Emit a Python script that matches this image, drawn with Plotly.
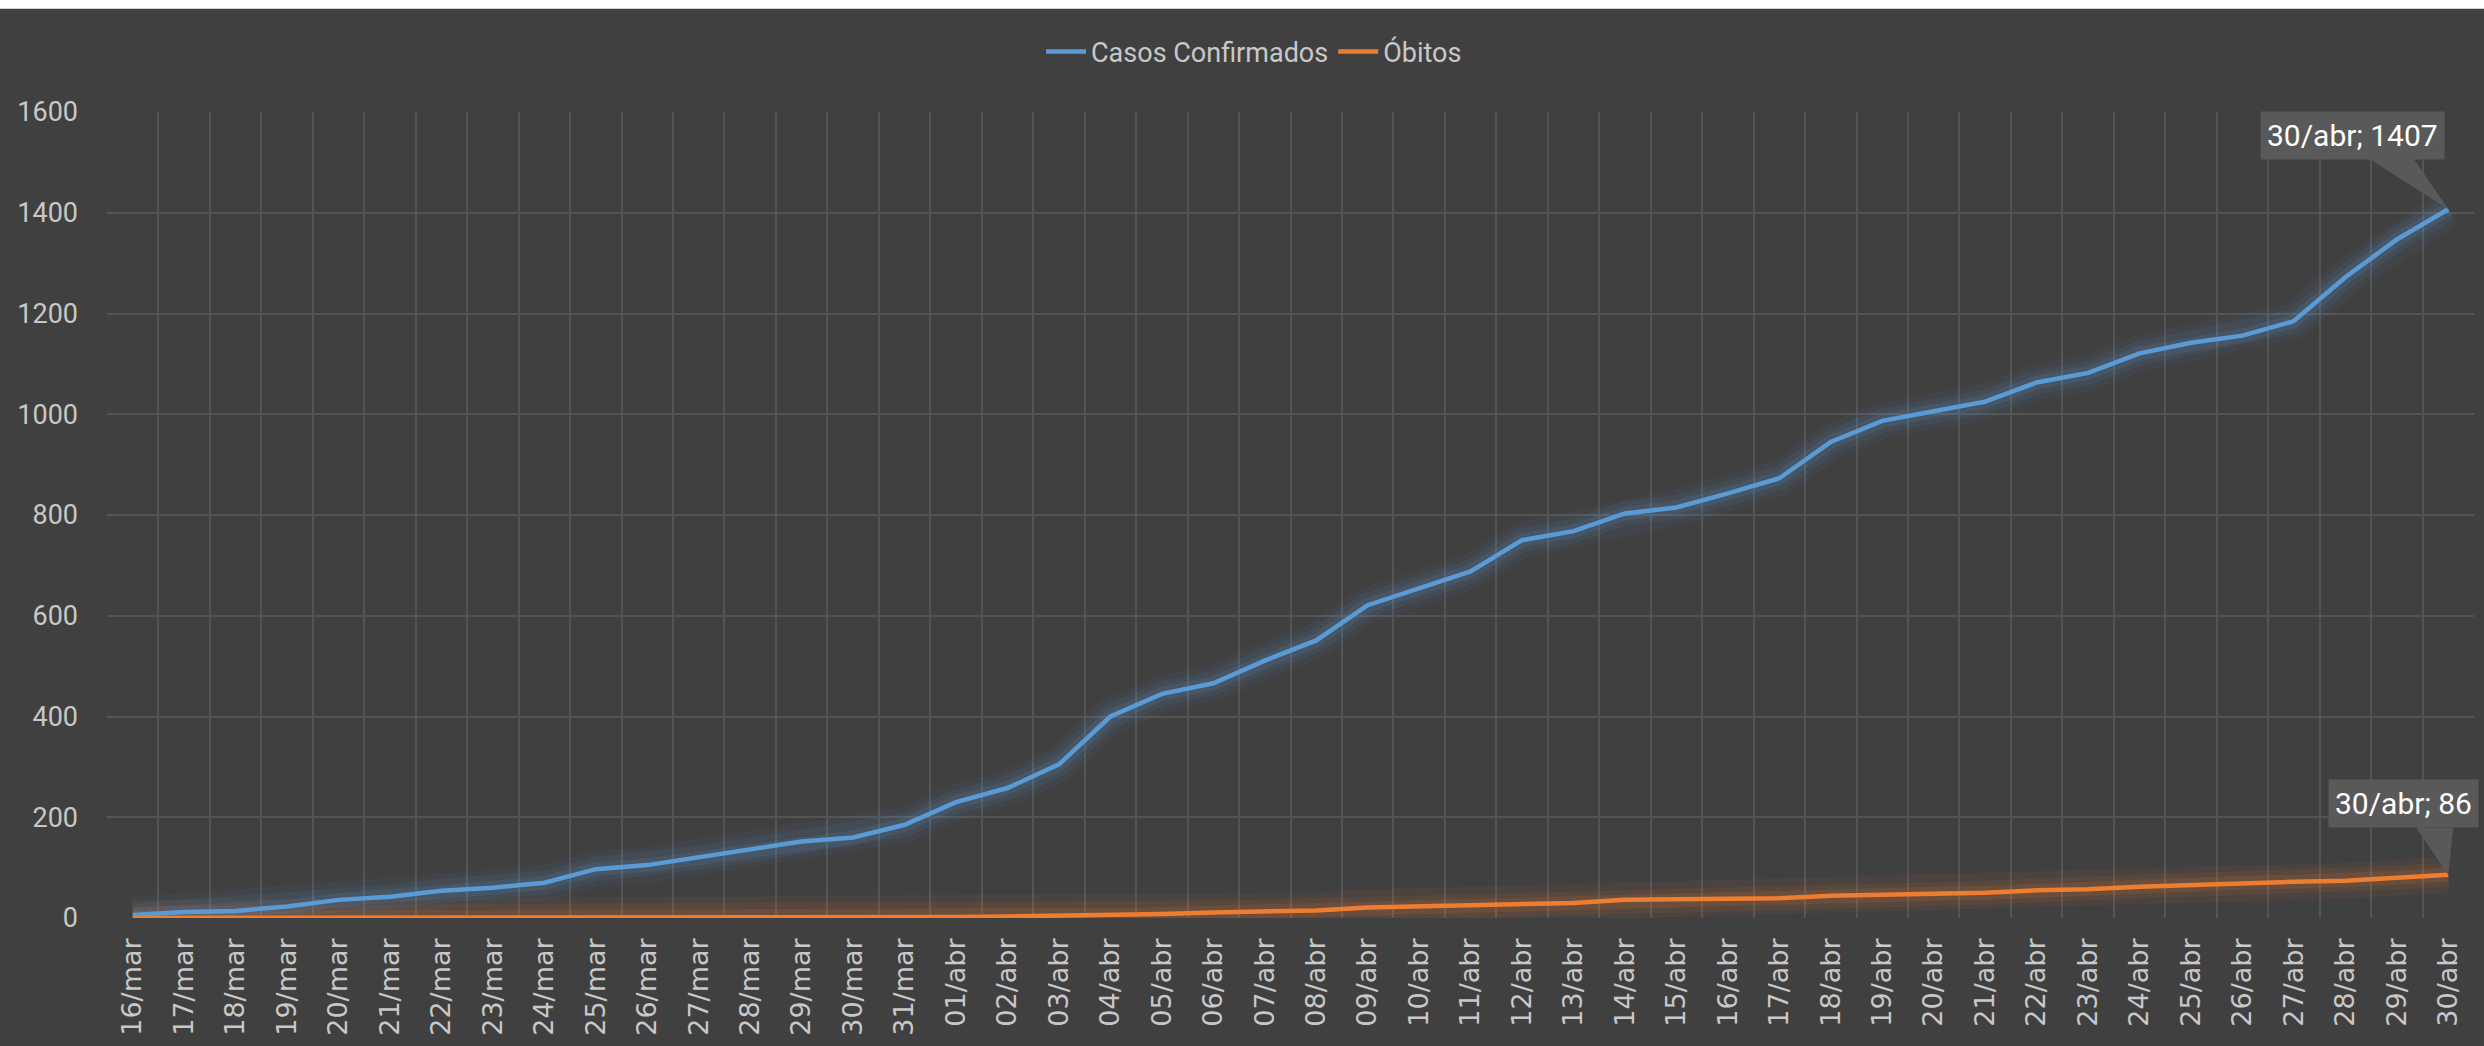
import plotly.graph_objects as go

# dados (leitura do gráfico)
datas = ['16/mar', '17/mar', '18/mar', '19/mar', '20/mar', '21/mar', '22/mar', '23/mar',
         '24/mar', '25/mar', '26/mar', '27/mar', '28/mar', '29/mar', '30/mar', '31/mar',
         '01/abr', '02/abr', '03/abr', '04/abr', '05/abr', '06/abr', '07/abr', '08/abr',
         '09/abr', '10/abr', '11/abr', '12/abr', '13/abr', '14/abr', '15/abr', '16/abr',
         '17/abr', '18/abr', '19/abr', '20/abr', '21/abr', '22/abr', '23/abr', '24/abr',
         '25/abr', '26/abr', '27/abr', '28/abr', '29/abr', '30/abr']

casos = [6, 12, 14, 23, 36, 42, 54, 60, 70, 97, 105, 120, 135, 152, 160, 185,
         230, 258, 305, 400, 445, 466, 511, 551, 621, 655, 688, 750, 768, 803, 815, 843,
         873, 945, 987, 1006, 1025, 1063, 1082, 1121, 1142, 1156, 1185, 1272, 1347, 1407]

obitos = [0, 0, 0, 0, 0, 0, 0, 0, 0, 0, 0, 1, 1, 1, 2, 2,
          2, 3, 4, 6, 8, 11, 13, 15, 21, 23, 24, 28, 30, 36, 37, 37,
          39, 44, 46, 48, 50, 55, 57, 62, 66, 70, 72, 74, 80, 86]

y_ticks = [0, 200, 400, 600, 800, 1000, 1200, 1400, 1600]

AZUL = '#5B9BD5'
LARANJA = '#ED7D31'
FUNDO = '#404040'
GRADE = '#545454'
TEXTO = '#C8C8C8'
FONTE = 'Roboto, sans-serif'

fig = go.Figure()

# brilho suave por baixo das linhas
for serie, rgb in [(casos, '91,155,213'), (obitos, '237,125,49')]:
    for largura, alfa in [(36, 0.06), (24, 0.09), (14, 0.13)]:
        fig.add_trace(go.Scatter(x=datas, y=serie, mode='lines', showlegend=False, hoverinfo='skip',
                                 line=dict(color=f'rgba({rgb},{alfa})', width=largura)))

fig.add_trace(go.Scatter(x=datas, y=casos, mode='lines', name='Casos Confirmados',
                         line=dict(color=AZUL, width=4.5)))
fig.add_trace(go.Scatter(x=datas, y=obitos, mode='lines', name='Óbitos',
                         line=dict(color=LARANJA, width=4.5)))

# rótulos de dados (balões)
ultimo = datas[-1]
baloes = [(casos[-1], -96, 74, 'M -80,51 L -35,51 L 0,0 Z'),
          (obitos[-1], -45, 71, 'M -32,47 L 5,47 L 0,0 Z')]
for valor, dx, dy, ponta in baloes:
    fig.add_shape(type='path', xref='x', yref='y', xsizemode='pixel', ysizemode='pixel',
                  xanchor=ultimo, yanchor=valor, path=ponta,
                  fillcolor='#595959', line=dict(width=0), layer='above')
    fig.add_annotation(x=ultimo, y=valor, text=f'{ultimo}; {valor}', showarrow=False,
                       xshift=dx, yshift=dy, bgcolor='#595959', borderpad=6,
                       font=dict(family=FONTE, size=30, color='#FFFFFF'))

# faixa branca no topo (8 px)
fig.add_shape(type='rect', xref='paper', yref='paper', x0=-0.1, x1=1.1, y0=1.129, y1=1.2,
              fillcolor='#FFFFFF', line=dict(width=0), layer='above')
fig.add_shape(type='rect', xref='paper', yref='paper', x0=-0.1, x1=1.1, y0=1.1278, y1=1.129,
              fillcolor='#D0D0D0', line=dict(width=0), layer='above')

fig.update_layout(
    width=2484, height=1046,
    paper_bgcolor=FUNDO, plot_bgcolor=FUNDO,
    margin=dict(l=107, r=10, t=112, b=128),
    showlegend=True,
    legend=dict(orientation='h', x=0.4846, xanchor='center', y=1.0744, yanchor='middle',
                font=dict(family=FONTE, size=27, color=TEXTO),
                bgcolor='rgba(0,0,0,0)', itemwidth=40),
    xaxis=dict(type='category', tickson='boundaries', range=[-0.5, len(datas) - 0.5],
               showgrid=True, gridcolor=GRADE, gridwidth=1.5, ticks='', tickangle=-90,
               tickfont=dict(family='DejaVu Sans', size=27, color=TEXTO),
               ticklabelstandoff=14, showline=False, zeroline=False),
    yaxis=dict(range=[0, 1600], tickvals=y_ticks, showgrid=True, gridcolor=GRADE, gridwidth=1.5,
               tickfont=dict(family=FONTE, size=27, color=TEXTO),
               zeroline=False, showline=False, ticks='', ticklabelstandoff=28),
)

fig.write_html('out.html', config={'displayModeBar': False},
               post_script="document.body.style.margin='0';")
